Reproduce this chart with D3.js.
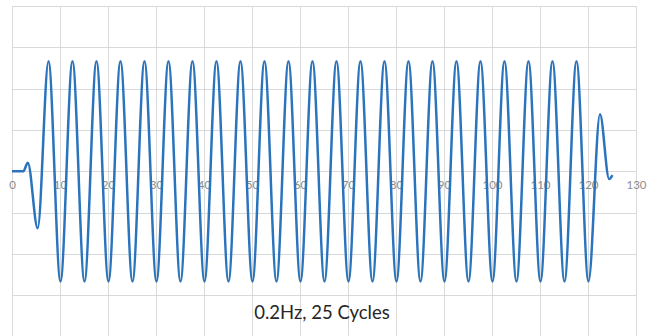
<!DOCTYPE html>
<html>
<head>
<meta charset="utf-8">
<script src="https://cdn.jsdelivr.net/npm/d3@7"></script>
<style>
    body { margin: 0; background: #fff; }
    .grid line { stroke: #d9d9d9; stroke-width: 1; }
    .tick text { font-family: Lato, "Open Sans", sans-serif; font-size: 11.5px; fill: #8c8c8c; }
    .title { font-family: Lato, "Open Sans", sans-serif; font-size: 18.5px; fill: #262626; }
</style>
</head>
<body>
<svg id="chart" width="647" height="336"></svg>
<script>
// ------------------------------
// DATA - turning points of the 0.2Hz signal (time in s, amplitude)
// ------------------------------
var times = [0, 2.35, 3.3, 5.35,
    7.6, 10.1, 12.6, 15.1, 17.6, 20.1, 22.6, 25.1, 27.6, 30.1,
    32.6, 35.1, 37.6, 40.1, 42.6, 45.1, 47.6, 50.1, 52.6, 55.1,
    57.6, 60.1, 62.6, 65.1, 67.6, 70.1, 72.6, 75.1, 77.6, 80.1,
    82.6, 85.1, 87.6, 90.1, 92.6, 95.1, 97.6, 100.1, 102.6, 105.1,
    107.6, 110.1, 112.6, 115.1, 117.6, 120.1,
    122.5, 124.4, 125.1];

var values = [0, 0, 0.62, -4.14,
    8, -8, 8, -8, 8, -8, 8, -8, 8, -8,
    8, -8, 8, -8, 8, -8, 8, -8, 8, -8,
    8, -8, 8, -8, 8, -8, 8, -8, 8, -8,
    8, -8, 8, -8, 8, -8, 8, -8, 8, -8,
    8, -8, 8, -8, 8, -8,
    4.14, -0.56, -0.27];

var xTicks = [0, 10, 20, 30, 40, 50, 60, 70, 80, 90, 100, 110, 120, 130];
var yGrid = [-12, -9, -6, -3, 0, 3, 6, 9, 12];
var title = "0.2Hz, 25 Cycles";

var svg = d3.select("#chart");

var x = d3.scaleLinear().domain([0, 130]).range([12, 636]);
var y = d3.scaleLinear().domain([-12, 12]).range([336.5, 6.1]);

// gridlines
var grid = svg.append("g").attr("class", "grid");
grid.selectAll(".v")
    .data(xTicks)
  .enter().append("line")
    .attr("x1", function(d){return Math.round(x(d)) + 0.5})
    .attr("x2", function(d){return Math.round(x(d)) + 0.5})
    .attr("y1", y(12))
    .attr("y2", y(-12));
grid.selectAll(".h")
    .data(yGrid)
  .enter().append("line")
    .attr("x1", x(0))
    .attr("x2", x(130))
    .attr("y1", function(d){return Math.round(y(d)) + 0.5})
    .attr("y2", function(d){return Math.round(y(d)) + 0.5});

// x axis labels sit on the zero line
var axis = d3.axisBottom(x).tickValues(xTicks).tickSize(0).tickPadding(10);
var ax = svg.append("g").attr("transform", "translate(0," + y(0) + ")").call(axis);
ax.select(".domain").remove();

// the signal, monotone curve keeps the slope flat at every turning point
var pts = times.map(function(t, i){return [t, values[i]]});
var line = d3.line()
    .x(function(d){return x(d[0])})
    .y(function(d){return y(d[1])})
    .curve(d3.curveMonotoneX);

svg.append("path")
    .datum(pts)
    .attr("d", line)
    .attr("fill", "none")
    .attr("stroke", "#2a73bd")
    .attr("stroke-width", 2.5)
    .attr("stroke-linejoin", "round");

svg.append("text")
    .attr("class", "title")
    .attr("x", 322)
    .attr("y", 319)
    .attr("text-anchor", "middle")
    .text(title);
</script>
</body>
</html>
